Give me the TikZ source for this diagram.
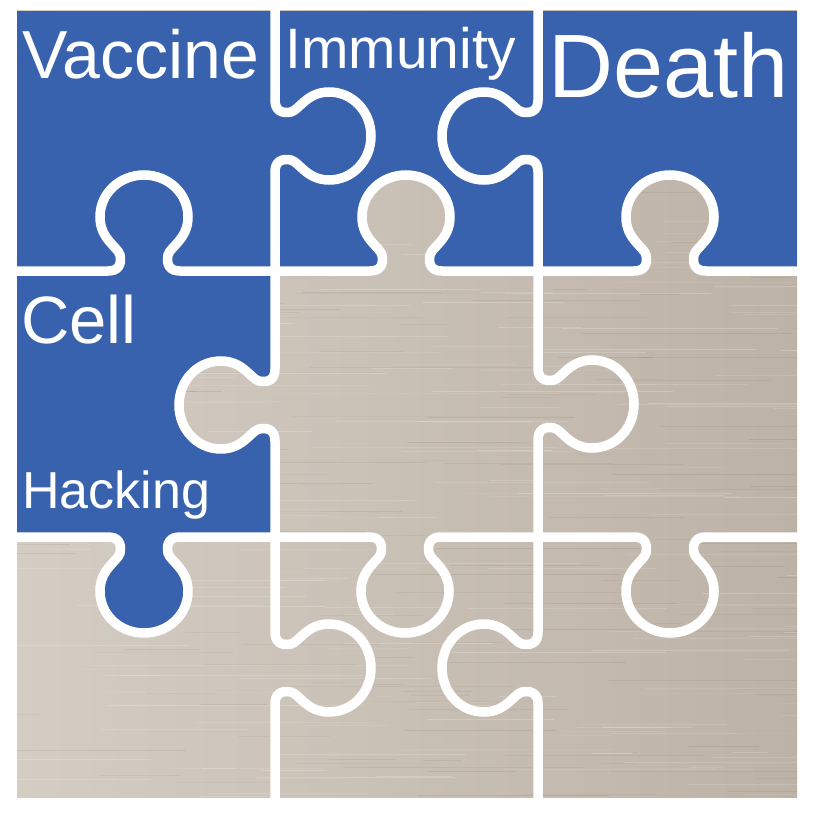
\documentclass[tikz,border=0pt]{standalone}
\usepackage{fontspec}
\setmainfont{Liberation Sans}
\definecolor{pblue}{HTML}{3862AD}
\definecolor{metalL}{HTML}{D4CDC4}
\definecolor{metalR}{HTML}{BDB2A6}
\tikzset{
  knob/.style={insert path={ .. controls (-26,0) and (-22,6) .. (-24,16)
      .. controls (-26,24) and (-44,32) .. (-44,54)
      .. controls (-44,78) and (-24,96) .. (0,96)
      .. controls (24,96) and (44,78) .. (44,54)
      .. controls (44,32) and (26,24) .. (24,16)
      .. controls (22,6) and (26,0) .. (36,0)}},
  cutline/.style={draw=white, line width=9.5pt},
  lbl/.style={text=white, anchor=base west, inner sep=0pt},
}
\newcommand\metalboard{%
  \shade[left color=metalL, right color=metalR] (17,11) rectangle (797,797);
  \begin{scope}
    \clip (17,11) rectangle (797,797);
    \pgfmathsetseed{12}
    \foreach \i in {1,...,260}{
      \pgfmathsetmacro\yy{11+786*rnd}
      \pgfmathsetmacro\xx{-50+850*rnd}
      \pgfmathsetmacro\ll{30+220*rnd}
      \pgfmathsetmacro\oo{0.05+0.16*rnd}
      \draw[white, opacity=\oo, line width=0.7pt] (\xx,\yy) -- ++(\ll,0);
    }
    \foreach \i in {1,...,160}{
      \pgfmathsetmacro\yy{11+786*rnd}
      \pgfmathsetmacro\xx{-50+850*rnd}
      \pgfmathsetmacro\ll{30+220*rnd}
      \pgfmathsetmacro\oo{0.03+0.07*rnd}
      \draw[black!60!brown, opacity=\oo, line width=0.7pt] (\xx,\yy) -- ++(\ll,0);
    }
  \end{scope}}
% gray knob cut into a blue piece: centre x, centre y, rotation
\newcommand\grayknob[3]{%
  \begin{scope}[shift={(#1,#2)},rotate=#3]
    \clip (-36,0) [knob] -- (36,-6) -- (-36,-6) -- cycle;
    \begin{scope}[reset cm]\metalboard\end{scope}
  \end{scope}}
\newcommand\cutedge[3]{\begin{scope}[shift={(#1,#2)},rotate=#3]\draw[cutline] (-135,0) -- (-36,0) [knob] -- (135,0);\end{scope}}
\begin{document}
\begin{tikzpicture}[x=1pt,y=-1pt]
\useasboundingbox (0,0) rectangle (816,816);
% metal board
\metalboard
% blue pieces
\fill[pblue] (17,11) rectangle (797,271);
\fill[pblue] (17,266) rectangle (275,537);
\begin{scope}[shift={(144,537)}]
  \fill[pblue] (-36,0) [knob] -- (36,-6) -- (-36,-6) -- cycle;
\end{scope}
\grayknob{406}{271}{180}
\grayknob{670}{271}{180}
\grayknob{275}{405}{-90}
% cuts
\cutedge{275}{136}{90}
\cutedge{538}{136}{-90}
\cutedge{144}{271}{180}
\cutedge{406}{271}{180}
\cutedge{670}{271}{180}
\cutedge{275}{405}{-90}
\cutedge{538}{404}{90}
\cutedge{144}{537}{0}
\cutedge{405}{537}{0}
\cutedge{670}{537}{0}
\cutedge{275}{668}{90}
\cutedge{538}{668}{-90}
% labels
\node[lbl, font=\fontsize{68}{68}\selectfont] (vac) at (22,78) {Vaccine};
\node[lbl, font=\fontsize{57}{57}\selectfont] (imm) at (285,68) {Immunity};
\node[lbl, font=\fontsize{90}{90}\selectfont] (dea) at (548,97) {Death};
\node[lbl, font=\fontsize{67}{67}\selectfont] (cel) at (21,343) {Cell};
\node[lbl, font=\fontsize{52}{52}\selectfont] (hac) at (22,508) {Hacking};
\end{tikzpicture}
\end{document}
